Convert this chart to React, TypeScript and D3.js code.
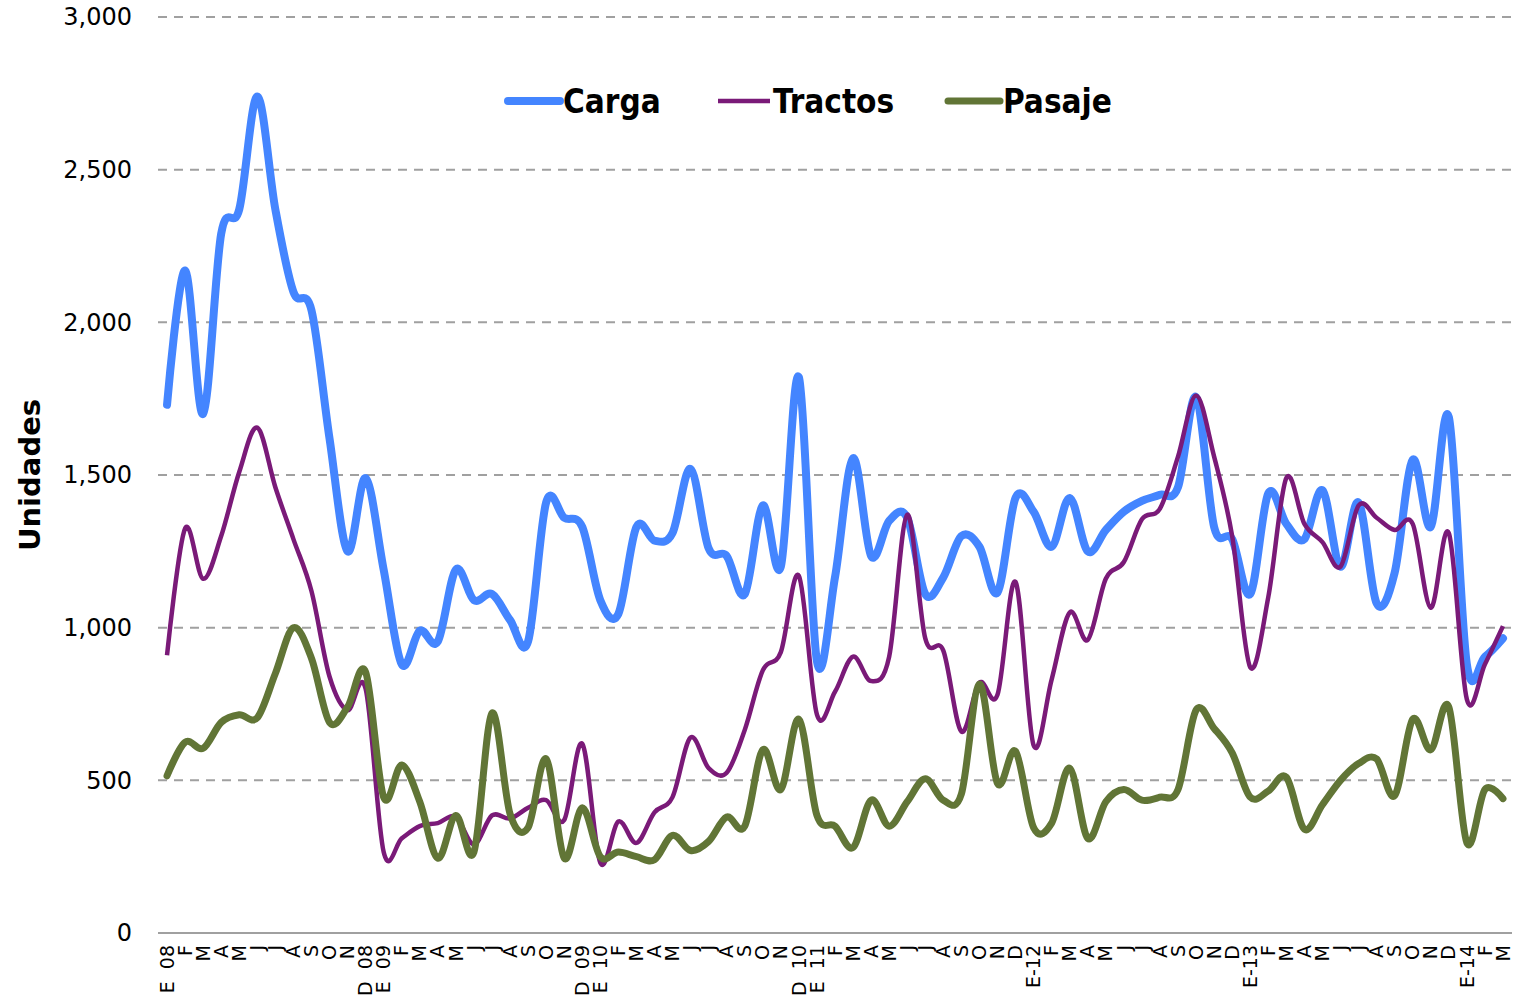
import * as d3 from "d3";

const months = [
  "E  08", "F", "M", "A", "M", "J", "J", "A", "S", "O", "N", "D  08",
  "E  09", "F", "M", "A", "M", "J", "J", "A", "S", "O", "N", "D  09",
  "E  10", "F", "M", "A", "M", "J", "J", "A", "S", "O", "N", "D  10",
  "E  11", "F", "M", "A", "M", "J", "J", "A", "S", "O", "N", "D",
  "E-12", "F", "M", "A", "M", "J", "J", "A", "S", "O", "N", "D",
  "E-13", "F", "M", "A", "M", "J", "J", "A", "S", "O", "N", "D",
  "E-14", "F", "M",
];

const carga = [
  1730, 2170, 1700, 2290, 2370, 2740, 2370, 2100, 2040, 1620, 1250, 1490,
  1190, 880, 990, 955, 1190, 1090, 1110, 1025, 955, 1410, 1360, 1330,
  1090, 1045, 1330, 1285, 1310, 1520, 1260, 1235, 1110, 1400, 1200, 1820,
  890, 1165, 1555, 1235, 1350, 1360, 1110, 1165, 1300, 1265, 1115, 1425,
  1380, 1265, 1425, 1250, 1320, 1380, 1415, 1435, 1460, 1755, 1330, 1290,
  1110, 1440, 1340, 1290, 1450, 1200, 1410, 1080, 1180, 1550, 1330, 1690,
  880, 905, 965,
];

const tractos = [
  910, 1325, 1160, 1300, 1510, 1655, 1460, 1290, 1120, 840, 730, 800,
  265, 310, 350, 360, 380, 290, 385, 375, 410, 435, 370, 620,
  230, 365, 295, 395, 445, 640, 540, 525, 665, 860, 920, 1170,
  715, 790, 905, 825, 905, 1370, 965, 925, 660, 820, 780, 1150,
  615, 830, 1050, 960, 1160, 1215, 1355, 1390, 1560, 1760, 1560, 1300,
  870, 1100, 1490, 1340, 1280, 1200, 1400, 1360, 1320, 1340, 1065, 1310,
  765, 880, 1005,
];

const pasaje = [
  515, 625, 605, 690, 715, 705, 850, 1000, 900, 690, 740, 855,
  445, 550, 430, 245, 385, 265, 720, 390, 345, 570, 245, 410,
  250, 265, 250, 240, 320, 270, 300, 380, 350, 600, 470, 700,
  385, 350, 280, 435, 350, 430, 505, 435, 455, 815, 490, 595,
  345, 360, 540, 310, 430, 470, 435, 445, 470, 730, 670, 590,
  445, 465, 510, 340, 420, 500, 555, 570, 450, 700, 600, 740,
  295, 470, 440,
];

const seriesNames = ["Carga", "Tractos", "Pasaje"];

const styles = {
  Carga: { color: "#4485ff", width: 8, cap: "round" },
  Tractos: { color: "#7a1a78", width: 4.5, cap: "butt" },
  Pasaje: { color: "#617536", width: 7, cap: "round" },
};

const width = 1529;
const height = 1003;
const left = 158;
const right = 1512;
const top = 17;
const bottom = 933;

export default function App() {
  const series = [carga, tractos, pasaje];
  const x = d3.scalePoint<number>().domain(d3.range(months.length)).range([left, right]).padding(0.5);
  const y = d3.scaleLinear().domain([0, 3000]).range([bottom, top]);
  const line = d3
    .line<number>()
    .x((_, i) => x(i) as number)
    .y((d) => y(d))
    .curve(d3.curveCatmullRom.alpha(0));
  const fmt = d3.format(",");
  const legendX = [508, 718, 948];

  return (
    <svg width={width} height={height} style={{ position: "absolute", left: 0, top: 0, background: "#fff" }}>
      {y.ticks(6).map((t) => (
        <g key={t}>
          <line
            x1={left}
            x2={right}
            y1={y(t)}
            y2={y(t)}
            stroke="#a0a0a0"
            strokeWidth={2}
            strokeDasharray={t === 0 ? undefined : "9 7"}
          />
          <text
            x={132}
            y={y(t)}
            dy="0.35em"
            textAnchor="end"
            fontFamily="DejaVu Sans, sans-serif"
            fontSize={24}
            fill="#000"
          >
            {fmt(t)}
          </text>
        </g>
      ))}
      {months.map((m, i) => (
        <text
          key={i}
          transform={`translate(${x(i)},945) rotate(-90)`}
          dy="0.35em"
          textAnchor="end"
          fontFamily="DejaVu Sans, sans-serif"
          fontSize={19}
          fill="#000"
          style={{ whiteSpace: "pre" }}
        >
          {m}
        </text>
      ))}
      <text
        transform="translate(30,475) rotate(-90)"
        dy="0.35em"
        textAnchor="middle"
        fontFamily="DejaVu Sans, sans-serif"
        fontWeight="bold"
        fontSize={29}
        fill="#000"
      >
        Unidades
      </text>
      {series.map((vals, k) => {
        const s = styles[seriesNames[k]];
        return (
          <path
            key={seriesNames[k]}
            d={line(vals) || ""}
            fill="none"
            stroke={s.color}
            strokeWidth={s.width}
            strokeLinecap={s.cap}
            strokeLinejoin="round"
          />
        );
      })}
      {seriesNames.map((name, k) => {
        const s = styles[name];
        return (
          <g key={name} transform={`translate(${legendX[k]},101)`}>
            <line x1={0} x2={52} y1={0} y2={0} stroke={s.color} strokeWidth={s.width} strokeLinecap={s.cap} />
            <text
              x={55}
              dy="0.35em"
              fontFamily="DejaVu Sans Condensed, DejaVu Sans, sans-serif"
              fontWeight="bold"
              fontSize={33}
              fill="#000"
            >
              {name}
            </text>
          </g>
        );
      })}
    </svg>
  );
}
